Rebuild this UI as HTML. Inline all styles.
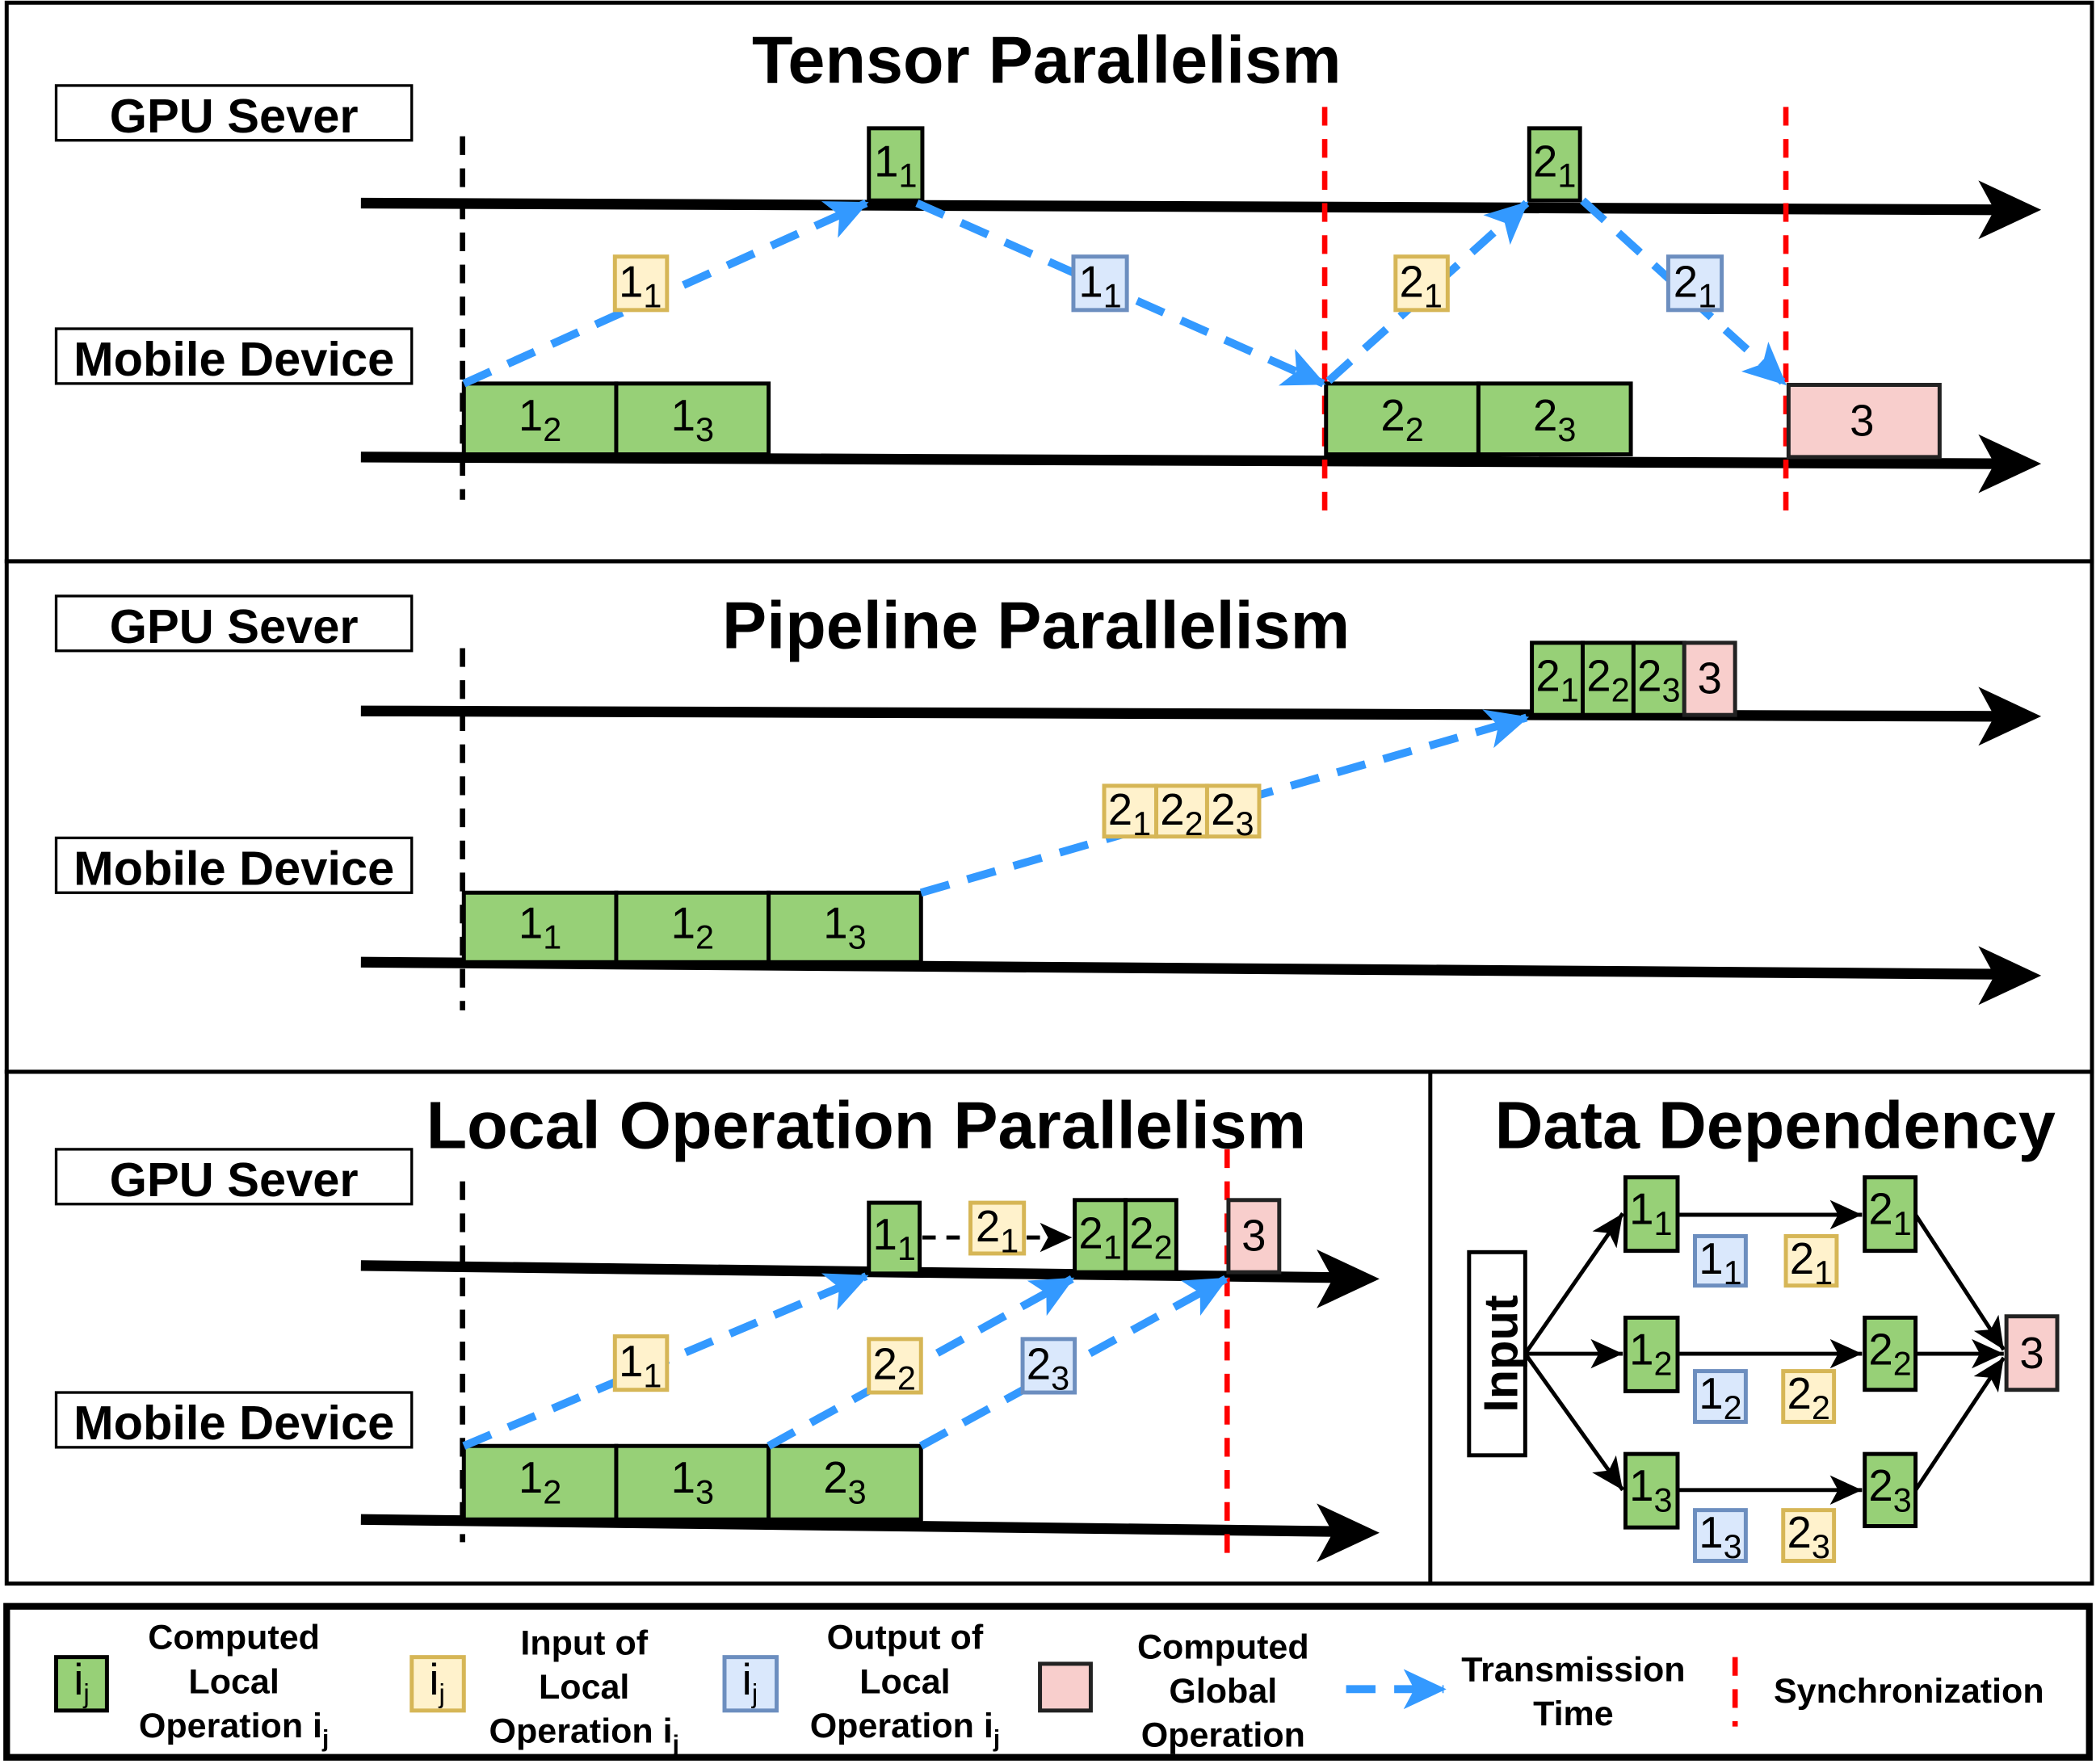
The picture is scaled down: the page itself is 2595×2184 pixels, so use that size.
<!DOCTYPE html>
<html><head><meta charset="utf-8"><style>
html,body{margin:0;padding:0;background:#fff}
svg{display:block}
text{font-family:"Liberation Sans",sans-serif}
.t{font-size:50px;font-weight:bold;text-anchor:middle}
.lb{font-size:36px;font-weight:bold;text-anchor:middle}
.bx{font-size:33px;text-anchor:middle}
.lg{font-size:26px;font-weight:bold;text-anchor:middle}
.g{fill:#97D077;stroke:#000;stroke-width:3}
.y{fill:#FFF2CC;stroke:#D6B656;stroke-width:3}
.b{fill:#DAE8FC;stroke:#6C8EBF;stroke-width:3}
.p{fill:#F8CECC;stroke:#222;stroke-width:3}
.ax{stroke:#000;stroke-width:8;fill:none}
.bd{stroke:#000;stroke-width:4;stroke-dasharray:14 10;fill:none}
.rd{stroke:#f00;stroke-width:4;stroke-dasharray:14 10;fill:none}
.ar{stroke:#3399FF;stroke-width:6;stroke-dasharray:22 14;fill:none}
.k{stroke:#000;stroke-width:3;fill:none}
</style></head><body>
<svg width="2595" height="2184" viewBox="0 0 1568 1320" preserveAspectRatio="none" xmlns="http://www.w3.org/2000/svg">
<defs>
<marker id="ba" markerUnits="userSpaceOnUse" markerWidth="34" markerHeight="34" refX="30" refY="15" orient="auto" viewBox="0 0 34 30"><path d="M0,0 L32,15 L0,30 L8,15 Z" fill="#3399FF"/></marker>
<marker id="ka" markerUnits="userSpaceOnUse" markerWidth="26" markerHeight="24" refX="24" refY="11" orient="auto" viewBox="0 0 26 22"><path d="M0,0 L24,11 L0,22 L6,11 Z" fill="#000"/></marker>
</defs>
<rect width="1568" height="1320" fill="#fff"/>
<rect x="5" y="2" width="1560" height="418" fill="none" stroke="#000" stroke-width="3"/>
<rect x="5" y="420" width="1560" height="382" fill="none" stroke="#000" stroke-width="3"/>
<rect x="5" y="802" width="1560" height="383" fill="none" stroke="#000" stroke-width="3"/>
<line x1="1070" y1="802" x2="1070" y2="1185" stroke="#000" stroke-width="3"/>
<rect x="5" y="1202" width="1558" height="113" fill="none" stroke="#000" stroke-width="5"/>

<!-- Tensor -->
<text class="t" x="783" y="62">Tensor Parallelism</text>
<rect x="42" y="64" width="266" height="41" fill="#fff" stroke="#000" stroke-width="2"/>
<text class="lb" x="175" y="99">GPU Sever</text>
<rect x="42" y="246" width="266" height="41" fill="#fff" stroke="#000" stroke-width="2"/>
<text class="lb" x="175" y="281">Mobile Device</text>
<line class="ax" x1="270" y1="152" x2="1495" y2="157"/>
<path d="M1480,135 L1527,157 L1480,179 L1492,157 Z"/>
<line class="ax" x1="270" y1="342" x2="1495" y2="347"/>
<path d="M1480,325 L1527,347 L1480,369 L1492,347 Z"/>
<line class="bd" x1="346" y1="102" x2="346" y2="374"/>
<line class="rd" x1="991" y1="80" x2="991" y2="386"/>
<line class="rd" x1="1336" y1="80" x2="1336" y2="386"/>
<rect class="g" x="650" y="96" width="40" height="54"/>
<text class="bx" x="670" y="132">1<tspan font-size="25" dy="8">1</tspan></text>
<rect class="g" x="1144" y="96" width="38" height="54"/>
<text class="bx" x="1163" y="132">2<tspan font-size="25" dy="8">1</tspan></text>
<rect class="g" x="347" y="287" width="114" height="53"/>
<text class="bx" x="404" y="322">1<tspan font-size="25" dy="8">2</tspan></text>
<rect class="g" x="461" y="287" width="114" height="53"/>
<text class="bx" x="518" y="322">1<tspan font-size="25" dy="8">3</tspan></text>
<rect class="g" x="992" y="287" width="114" height="53"/>
<text class="bx" x="1049" y="322">2<tspan font-size="25" dy="8">2</tspan></text>
<rect class="g" x="1106" y="287" width="114" height="53"/>
<text class="bx" x="1163" y="322">2<tspan font-size="25" dy="8">3</tspan></text>
<rect class="p" x="1338" y="288" width="113" height="54"/>
<text class="bx" x="1393" y="326" font-size="30">3</text>
<line class="ar" x1="347" y1="287" x2="648" y2="152" marker-end="url(#ba)"/>
<line class="ar" x1="686" y1="152" x2="990" y2="287" marker-end="url(#ba)"/>
<line class="ar" x1="994" y1="285" x2="1142" y2="152" marker-end="url(#ba)"/>
<line class="ar" x1="1184" y1="150" x2="1335" y2="287" marker-end="url(#ba)"/>
<rect class="y" x="460" y="192" width="39" height="40"/>
<text class="bx" x="479" y="222">1<tspan font-size="25" dy="8">1</tspan></text>
<rect class="b" x="803" y="192" width="40" height="40"/>
<text class="bx" x="823" y="222">1<tspan font-size="25" dy="8">1</tspan></text>
<rect class="y" x="1044" y="192" width="39" height="40"/>
<text class="bx" x="1063" y="222">2<tspan font-size="25" dy="8">1</tspan></text>
<rect class="b" x="1248" y="192" width="40" height="40"/>
<text class="bx" x="1268" y="222">2<tspan font-size="25" dy="8">1</tspan></text>

<!-- Pipeline -->
<text class="t" x="775" y="485">Pipeline Parallelism</text>
<rect x="42" y="446" width="266" height="41" fill="#fff" stroke="#000" stroke-width="2"/>
<text class="lb" x="175" y="481">GPU Sever</text>
<rect x="42" y="627" width="266" height="41" fill="#fff" stroke="#000" stroke-width="2"/>
<text class="lb" x="175" y="662">Mobile Device</text>
<line class="ax" x1="270" y1="532" x2="1495" y2="536"/>
<path d="M1480,514 L1527,536 L1480,558 L1492,536 Z"/>
<line class="ax" x1="270" y1="720" x2="1495" y2="729"/>
<path d="M1480,708 L1527,730 L1480,752 L1492,730 Z"/>
<line class="bd" x1="346" y1="485" x2="346" y2="756"/>
<rect class="g" x="1146" y="481" width="38" height="54"/>
<text class="bx" x="1165" y="517">2<tspan font-size="25" dy="8">1</tspan></text>
<rect class="g" x="1184" y="481" width="38" height="54"/>
<text class="bx" x="1203" y="517">2<tspan font-size="25" dy="8">2</tspan></text>
<rect class="g" x="1222" y="481" width="38" height="54"/>
<text class="bx" x="1241" y="517">2<tspan font-size="25" dy="8">3</tspan></text>
<rect class="p" x="1260" y="481" width="38" height="54"/>
<text class="bx" x="1279" y="519" font-size="30">3</text>
<rect class="g" x="347" y="668" width="114" height="52"/>
<text class="bx" x="404" y="702">1<tspan font-size="25" dy="8">1</tspan></text>
<rect class="g" x="461" y="668" width="114" height="52"/>
<text class="bx" x="518" y="702">1<tspan font-size="25" dy="8">2</tspan></text>
<rect class="g" x="575" y="668" width="114" height="52"/>
<text class="bx" x="632" y="702">1<tspan font-size="25" dy="8">3</tspan></text>
<line class="ar" x1="689" y1="668" x2="1142" y2="537" marker-end="url(#ba)"/>
<rect class="y" x="826" y="588" width="39" height="38"/>
<text class="bx" x="845" y="617">2<tspan font-size="25" dy="8">1</tspan></text>
<rect class="y" x="865" y="588" width="38" height="38"/>
<text class="bx" x="884" y="617">2<tspan font-size="25" dy="8">2</tspan></text>
<rect class="y" x="903" y="588" width="39" height="38"/>
<text class="bx" x="922" y="617">2<tspan font-size="25" dy="8">3</tspan></text>

<!-- Local -->
<text class="t" x="648" y="859">Local Operation Parallelism</text>
<rect x="42" y="860" width="266" height="41" fill="#fff" stroke="#000" stroke-width="2"/>
<text class="lb" x="175" y="895">GPU Sever</text>
<rect x="42" y="1042" width="266" height="41" fill="#fff" stroke="#000" stroke-width="2"/>
<text class="lb" x="175" y="1077">Mobile Device</text>
<line class="ax" x1="270" y1="947" x2="1000" y2="956"/>
<path d="M985,935 L1032,957 L985,979 L997,957 Z"/>
<line class="ax" x1="270" y1="1137" x2="1000" y2="1146"/>
<path d="M985,1125 L1032,1147 L985,1169 L997,1147 Z"/>
<line class="bd" x1="346" y1="884" x2="346" y2="1154"/>
<line class="rd" x1="918" y1="860" x2="918" y2="1166"/>
<rect class="g" x="650" y="900" width="38" height="53"/>
<text class="bx" x="669" y="935">1<tspan font-size="25" dy="8">1</tspan></text>
<line x1="690" y1="926" x2="724" y2="926" stroke="#000" stroke-width="3" stroke-dasharray="10 8"/>
<rect class="y" x="726" y="900" width="40" height="38"/>
<text class="bx" x="746" y="929">2<tspan font-size="25" dy="8">1</tspan></text>
<line x1="768" y1="926" x2="802" y2="926" stroke="#000" stroke-width="3" stroke-dasharray="10 8" marker-end="url(#ka)"/>
<rect class="g" x="804" y="898" width="38" height="54"/>
<text class="bx" x="823" y="934">2<tspan font-size="25" dy="8">1</tspan></text>
<rect class="g" x="842" y="898" width="38" height="54"/>
<text class="bx" x="861" y="934">2<tspan font-size="25" dy="8">2</tspan></text>
<rect class="p" x="919" y="898" width="38" height="54"/>
<text class="bx" x="938" y="936" font-size="30">3</text>
<rect class="g" x="347" y="1082" width="114" height="55"/>
<text class="bx" x="404" y="1117">1<tspan font-size="25" dy="8">2</tspan></text>
<rect class="g" x="461" y="1082" width="114" height="55"/>
<text class="bx" x="518" y="1117">1<tspan font-size="25" dy="8">3</tspan></text>
<rect class="g" x="575" y="1082" width="114" height="55"/>
<text class="bx" x="632" y="1117">2<tspan font-size="25" dy="8">3</tspan></text>
<line class="ar" x1="347" y1="1082" x2="648" y2="955" marker-end="url(#ba)"/>
<line class="ar" x1="575" y1="1082" x2="802" y2="957" marker-end="url(#ba)"/>
<line class="ar" x1="689" y1="1082" x2="917" y2="957" marker-end="url(#ba)"/>
<rect class="y" x="460" y="1000" width="39" height="40"/>
<text class="bx" x="479" y="1030">1<tspan font-size="25" dy="8">1</tspan></text>
<rect class="y" x="650" y="1002" width="39" height="40"/>
<text class="bx" x="669" y="1032">2<tspan font-size="25" dy="8">2</tspan></text>
<rect class="b" x="765" y="1002" width="39" height="40"/>
<text class="bx" x="784" y="1032">2<tspan font-size="25" dy="8">3</tspan></text>

<!-- Data Dependency -->
<text class="t" x="1328" y="859">Data Dependency</text>
<rect x="1099" y="937" width="42" height="152" fill="#fff" stroke="#000" stroke-width="3"/>
<text class="lb" transform="translate(1135,1013) rotate(-90)" x="0" y="0">Input</text>
<line class="k" x1="1141" y1="1013" x2="1214" y2="908" marker-end="url(#ka)"/>
<line class="k" x1="1141" y1="1013" x2="1214" y2="1013" marker-end="url(#ka)"/>
<line class="k" x1="1141" y1="1013" x2="1214" y2="1115" marker-end="url(#ka)"/>
<line class="k" x1="1255" y1="909" x2="1393" y2="909" marker-end="url(#ka)"/>
<line class="k" x1="1255" y1="1013" x2="1393" y2="1013" marker-end="url(#ka)"/>
<line class="k" x1="1255" y1="1115" x2="1393" y2="1115" marker-end="url(#ka)"/>
<line class="k" x1="1433" y1="909" x2="1499" y2="1010" marker-end="url(#ka)"/>
<line class="k" x1="1433" y1="1013" x2="1499" y2="1013" marker-end="url(#ka)"/>
<line class="k" x1="1433" y1="1115" x2="1499" y2="1016" marker-end="url(#ka)"/>
<rect class="g" x="1216" y="881" width="39" height="55"/>
<text class="bx" x="1235" y="916">1<tspan font-size="25" dy="8">1</tspan></text>
<rect class="g" x="1216" y="986" width="39" height="55"/>
<text class="bx" x="1235" y="1021">1<tspan font-size="25" dy="8">2</tspan></text>
<rect class="g" x="1216" y="1088" width="39" height="55"/>
<text class="bx" x="1235" y="1123">1<tspan font-size="25" dy="8">3</tspan></text>
<rect class="g" x="1395" y="881" width="38" height="55"/>
<text class="bx" x="1414" y="916">2<tspan font-size="25" dy="8">1</tspan></text>
<rect class="g" x="1395" y="986" width="38" height="54"/>
<text class="bx" x="1414" y="1021">2<tspan font-size="25" dy="8">2</tspan></text>
<rect class="g" x="1395" y="1088" width="38" height="54"/>
<text class="bx" x="1414" y="1123">2<tspan font-size="25" dy="8">3</tspan></text>
<rect class="p" x="1501" y="985" width="38" height="55"/>
<text class="bx" x="1520" y="1024" font-size="30">3</text>
<rect class="b" x="1268" y="925" width="38" height="37"/>
<text class="bx" x="1287" y="953">1<tspan font-size="25" dy="8">1</tspan></text>
<rect class="y" x="1336" y="925" width="38" height="37"/>
<text class="bx" x="1355" y="953">2<tspan font-size="25" dy="8">1</tspan></text>
<rect class="b" x="1268" y="1026" width="38" height="38"/>
<text class="bx" x="1287" y="1054">1<tspan font-size="25" dy="8">2</tspan></text>
<rect class="y" x="1334" y="1026" width="38" height="38"/>
<text class="bx" x="1353" y="1054">2<tspan font-size="25" dy="8">2</tspan></text>
<rect class="b" x="1268" y="1130" width="38" height="38"/>
<text class="bx" x="1287" y="1158">1<tspan font-size="25" dy="8">3</tspan></text>
<rect class="y" x="1334" y="1130" width="38" height="38"/>
<text class="bx" x="1353" y="1158">2<tspan font-size="25" dy="8">3</tspan></text>

<!-- Legend -->
<rect class="g" x="42" y="1240" width="38" height="40"/>
<text class="bx" x="61" y="1268" font-size="28">i<tspan font-size="20" dy="6">j</tspan></text>
<text class="lg" x="175" y="1234">Computed</text>
<text class="lg" x="175" y="1267">Local</text>
<text class="lg" x="175" y="1300">Operation i<tspan font-size="18" dy="7">j</tspan></text>
<rect class="y" x="308" y="1240" width="39" height="40"/>
<text class="bx" x="327" y="1268" font-size="28">i<tspan font-size="20" dy="6">j</tspan></text>
<text class="lg" x="437" y="1238">Input of</text>
<text class="lg" x="437" y="1271">Local</text>
<text class="lg" x="437" y="1304">Operation i<tspan font-size="18" dy="7">j</tspan></text>
<rect class="b" x="542" y="1240" width="39" height="40"/>
<text class="bx" x="561" y="1268" font-size="28">i<tspan font-size="20" dy="6">j</tspan></text>
<text class="lg" x="677" y="1234">Output of</text>
<text class="lg" x="677" y="1267">Local</text>
<text class="lg" x="677" y="1300">Operation i<tspan font-size="18" dy="7">j</tspan></text>
<rect class="p" x="778" y="1245" width="38" height="35"/>
<text class="lg" x="915" y="1241">Computed</text>
<text class="lg" x="915" y="1274">Global</text>
<text class="lg" x="915" y="1307">Operation</text>
<line class="ar" x1="1007" y1="1264" x2="1080" y2="1264" stroke-dasharray="14 10" marker-end="url(#ba)"/>
<text class="lg" x="1177" y="1258">Transmission</text>
<text class="lg" x="1177" y="1291">Time</text>
<line class="rd" x1="1298" y1="1240" x2="1298" y2="1292"/>
<text class="lg" x="1428" y="1274">Synchronization</text>
</svg>
</body></html>
